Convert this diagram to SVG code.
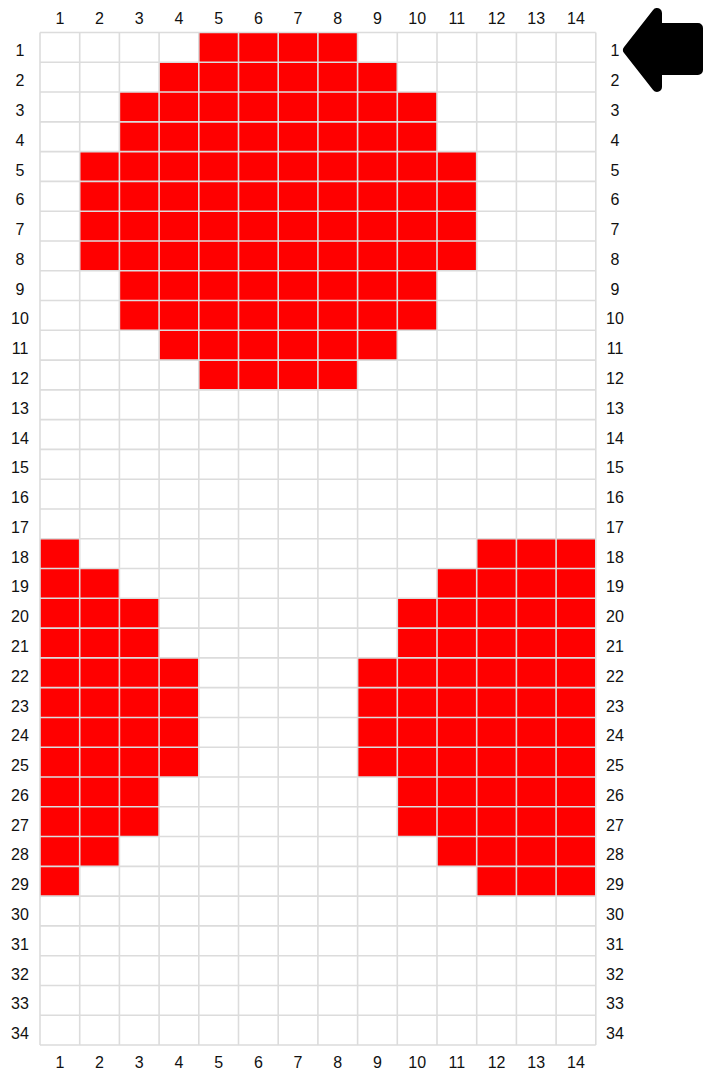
<svg xmlns="http://www.w3.org/2000/svg" width="703" height="1074" viewBox="0 0 703 1074">
<style>
.lbl{font-family:"Liberation Sans",Arial,sans-serif;font-size:16px;fill:#111;text-anchor:middle}
.on{fill:#ff0000}
.grid{fill:none;stroke:#dcdcdc;stroke-width:1.6}
</style>
<rect x="0" y="0" width="703" height="1074" fill="#ffffff"/>
<g id="cells">
<rect class="on" x="198.8" y="32.5" width="158.8" height="29.78"/>
<rect class="on" x="159.1" y="62.28" width="238.2" height="29.78"/>
<rect class="on" x="119.4" y="92.06" width="317.6" height="59.56"/>
<rect class="on" x="79.7" y="151.62" width="397" height="119.12"/>
<rect class="on" x="119.4" y="270.74" width="317.6" height="59.56"/>
<rect class="on" x="159.1" y="330.3" width="238.2" height="29.78"/>
<rect class="on" x="198.8" y="360.08" width="158.8" height="29.78"/>
<rect class="on" x="40" y="538.76" width="39.7" height="29.78"/>
<rect class="on" x="40" y="568.54" width="79.4" height="29.78"/>
<rect class="on" x="40" y="598.32" width="119.1" height="59.56"/>
<rect class="on" x="40" y="657.88" width="158.8" height="119.12"/>
<rect class="on" x="40" y="777" width="119.1" height="59.56"/>
<rect class="on" x="40" y="836.56" width="79.4" height="29.78"/>
<rect class="on" x="40" y="866.34" width="39.7" height="29.78"/>
<rect class="on" x="476.7" y="538.76" width="119.1" height="29.78"/>
<rect class="on" x="437" y="568.54" width="158.8" height="29.78"/>
<rect class="on" x="397.3" y="598.32" width="198.5" height="59.56"/>
<rect class="on" x="357.6" y="657.88" width="238.2" height="119.12"/>
<rect class="on" x="397.3" y="777" width="198.5" height="59.56"/>
<rect class="on" x="437" y="836.56" width="158.8" height="29.78"/>
<rect class="on" x="476.7" y="866.34" width="119.1" height="29.78"/>
</g>
<g id="grid">
<path class="grid" d="M40 32.5V1045.02M79.7 32.5V1045.02M119.4 32.5V1045.02M159.1 32.5V1045.02M198.8 32.5V1045.02M238.5 32.5V1045.02M278.2 32.5V1045.02M317.9 32.5V1045.02M357.6 32.5V1045.02M397.3 32.5V1045.02M437 32.5V1045.02M476.7 32.5V1045.02M516.4 32.5V1045.02M556.1 32.5V1045.02M595.8 32.5V1045.02"/>
<path class="grid" d="M40 32.5H595.8M40 62.28H595.8M40 92.06H595.8M40 121.84H595.8M40 151.62H595.8M40 181.4H595.8M40 211.18H595.8M40 240.96H595.8M40 270.74H595.8M40 300.52H595.8M40 330.3H595.8M40 360.08H595.8M40 389.86H595.8M40 419.64H595.8M40 449.42H595.8M40 479.2H595.8M40 508.98H595.8M40 538.76H595.8M40 568.54H595.8M40 598.32H595.8M40 628.1H595.8M40 657.88H595.8M40 687.66H595.8M40 717.44H595.8M40 747.22H595.8M40 777H595.8M40 806.78H595.8M40 836.56H595.8M40 866.34H595.8M40 896.12H595.8M40 925.9H595.8M40 955.68H595.8M40 985.46H595.8M40 1015.24H595.8M40 1045.02H595.8"/>
</g>
<g id="col-labels-top">
<text class="lbl" x="59.85" y="24">1</text><text class="lbl" x="99.55" y="24">2</text><text class="lbl" x="139.25" y="24">3</text><text class="lbl" x="178.95" y="24">4</text><text class="lbl" x="218.65" y="24">5</text><text class="lbl" x="258.35" y="24">6</text><text class="lbl" x="298.05" y="24">7</text><text class="lbl" x="337.75" y="24">8</text><text class="lbl" x="377.45" y="24">9</text><text class="lbl" x="417.15" y="24">10</text><text class="lbl" x="456.85" y="24">11</text><text class="lbl" x="496.55" y="24">12</text><text class="lbl" x="536.25" y="24">13</text><text class="lbl" x="575.95" y="24">14</text>
</g>
<g id="col-labels-bottom">
<text class="lbl" x="59.85" y="1068">1</text><text class="lbl" x="99.55" y="1068">2</text><text class="lbl" x="139.25" y="1068">3</text><text class="lbl" x="178.95" y="1068">4</text><text class="lbl" x="218.65" y="1068">5</text><text class="lbl" x="258.35" y="1068">6</text><text class="lbl" x="298.05" y="1068">7</text><text class="lbl" x="337.75" y="1068">8</text><text class="lbl" x="377.45" y="1068">9</text><text class="lbl" x="417.15" y="1068">10</text><text class="lbl" x="456.85" y="1068">11</text><text class="lbl" x="496.55" y="1068">12</text><text class="lbl" x="536.25" y="1068">13</text><text class="lbl" x="575.95" y="1068">14</text>
</g>
<g id="row-labels-left">
<text class="lbl" x="20" y="56.39">1</text><text class="lbl" x="20" y="86.17">2</text><text class="lbl" x="20" y="115.95">3</text><text class="lbl" x="20" y="145.73">4</text><text class="lbl" x="20" y="175.51">5</text><text class="lbl" x="20" y="205.29">6</text><text class="lbl" x="20" y="235.07">7</text><text class="lbl" x="20" y="264.85">8</text><text class="lbl" x="20" y="294.63">9</text><text class="lbl" x="20" y="324.41">10</text><text class="lbl" x="20" y="354.19">11</text><text class="lbl" x="20" y="383.97">12</text><text class="lbl" x="20" y="413.75">13</text><text class="lbl" x="20" y="443.53">14</text><text class="lbl" x="20" y="473.31">15</text><text class="lbl" x="20" y="503.09">16</text><text class="lbl" x="20" y="532.87">17</text><text class="lbl" x="20" y="562.65">18</text><text class="lbl" x="20" y="592.43">19</text><text class="lbl" x="20" y="622.21">20</text><text class="lbl" x="20" y="651.99">21</text><text class="lbl" x="20" y="681.77">22</text><text class="lbl" x="20" y="711.55">23</text><text class="lbl" x="20" y="741.33">24</text><text class="lbl" x="20" y="771.11">25</text><text class="lbl" x="20" y="800.89">26</text><text class="lbl" x="20" y="830.67">27</text><text class="lbl" x="20" y="860.45">28</text><text class="lbl" x="20" y="890.23">29</text><text class="lbl" x="20" y="920.01">30</text><text class="lbl" x="20" y="949.79">31</text><text class="lbl" x="20" y="979.57">32</text><text class="lbl" x="20" y="1009.35">33</text><text class="lbl" x="20" y="1039.13">34</text>
</g>
<g id="row-labels-right">
<text class="lbl" x="615" y="56.39">1</text><text class="lbl" x="615" y="86.17">2</text><text class="lbl" x="615" y="115.95">3</text><text class="lbl" x="615" y="145.73">4</text><text class="lbl" x="615" y="175.51">5</text><text class="lbl" x="615" y="205.29">6</text><text class="lbl" x="615" y="235.07">7</text><text class="lbl" x="615" y="264.85">8</text><text class="lbl" x="615" y="294.63">9</text><text class="lbl" x="615" y="324.41">10</text><text class="lbl" x="615" y="354.19">11</text><text class="lbl" x="615" y="383.97">12</text><text class="lbl" x="615" y="413.75">13</text><text class="lbl" x="615" y="443.53">14</text><text class="lbl" x="615" y="473.31">15</text><text class="lbl" x="615" y="503.09">16</text><text class="lbl" x="615" y="532.87">17</text><text class="lbl" x="615" y="562.65">18</text><text class="lbl" x="615" y="592.43">19</text><text class="lbl" x="615" y="622.21">20</text><text class="lbl" x="615" y="651.99">21</text><text class="lbl" x="615" y="681.77">22</text><text class="lbl" x="615" y="711.55">23</text><text class="lbl" x="615" y="741.33">24</text><text class="lbl" x="615" y="771.11">25</text><text class="lbl" x="615" y="800.89">26</text><text class="lbl" x="615" y="830.67">27</text><text class="lbl" x="615" y="860.45">28</text><text class="lbl" x="615" y="890.23">29</text><text class="lbl" x="615" y="920.01">30</text><text class="lbl" x="615" y="949.79">31</text><text class="lbl" x="615" y="979.57">32</text><text class="lbl" x="615" y="1009.35">33</text><text class="lbl" x="615" y="1039.13">34</text>
</g>
<g id="arrow">
<polygon points="628,50 657,13 657,28 698,28 698,70 657,70 657,87" fill="#000" stroke="#000" stroke-width="10" stroke-linejoin="round"/>
</g>
</svg>
